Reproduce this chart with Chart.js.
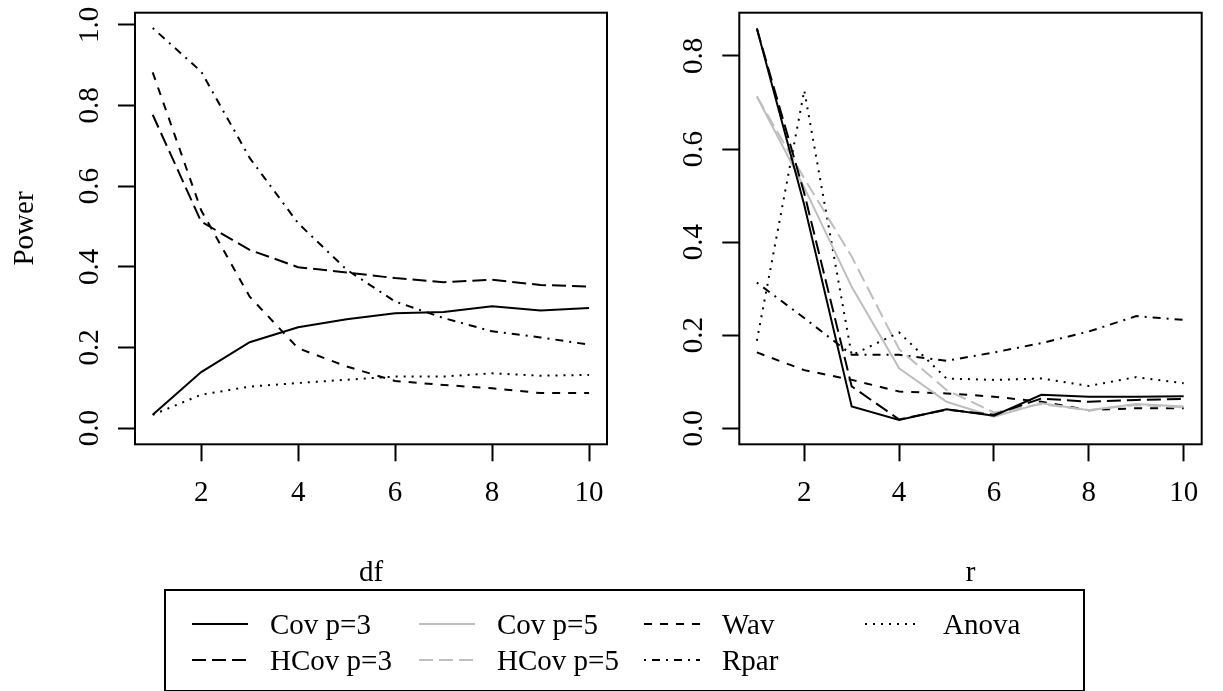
<!DOCTYPE html>
<html>
<head>
<meta charset="utf-8">
<script src="https://cdn.jsdelivr.net/npm/chart.js@4.4.1/dist/chart.umd.min.js"></script>
<style>
  body { margin: 0; background: #fff; width: 1223px; height: 691px; overflow: hidden; position: relative;
         font-family: "Liberation Serif", "Times New Roman", serif; }
  canvas { position: absolute; top: 0; }
  #legend { position: absolute; left: 164px; top: 589px; width: 917px; height: 99px; border: 2px solid #000; }
  .key { position: absolute; height: 30px; font-size: 29px; line-height: 30px; white-space: nowrap; }
  .key svg { position: absolute; left: 0; top: 0; }
  .key span { position: absolute; top: 0; }
</style>
</head>
<body>
<canvas id="dfChart" width="611" height="600" style="left:0;width:611px;height:600px"></canvas>
<canvas id="rChart" width="612" height="600" style="left:611px;width:612px;height:600px"></canvas>
<div id="legend"></div>
<script>
// x values for both panels
const dfValues = [1, 2, 3, 4, 5, 6, 7, 8, 9, 10];
const rValues = [1, 2, 3, 4, 5, 6, 7, 8, 9, 10];

// left panel: power against df
const covP3Df  = [0.033, 0.139, 0.213, 0.250, 0.270, 0.285, 0.288, 0.302, 0.292, 0.298];
const hcovP3Df = [0.777, 0.512, 0.442, 0.399, 0.386, 0.372, 0.362, 0.368, 0.355, 0.351];
const wavDf    = [0.882, 0.540, 0.326, 0.198, 0.153, 0.117, 0.107, 0.099, 0.087, 0.087];
const rparDf   = [0.992, 0.884, 0.670, 0.508, 0.393, 0.314, 0.273, 0.240, 0.225, 0.207];
const anovaDf  = [0.033, 0.083, 0.103, 0.112, 0.120, 0.128, 0.128, 0.136, 0.130, 0.132];

// right panel: power against r
const covP3R  = [0.859, 0.480, 0.047, 0.018, 0.041, 0.027, 0.072, 0.068, 0.068, 0.069];
const hcovP3R = [0.859, 0.505, 0.090, 0.019, 0.040, 0.029, 0.064, 0.057, 0.061, 0.063];
const covP5R  = [0.713, 0.517, 0.304, 0.129, 0.057, 0.025, 0.054, 0.039, 0.052, 0.047];
const hcovP5R = [0.713, 0.537, 0.369, 0.170, 0.082, 0.034, 0.052, 0.039, 0.050, 0.045];
const wavR    = [0.163, 0.125, 0.104, 0.079, 0.075, 0.068, 0.057, 0.039, 0.043, 0.043];
const rparR   = [0.313, 0.237, 0.158, 0.158, 0.145, 0.163, 0.183, 0.208, 0.241, 0.233];
const anovaR  = [0.188, 0.726, 0.157, 0.206, 0.107, 0.104, 0.107, 0.091, 0.110, 0.097];

const FONT = '"Liberation Serif", "Times New Roman", serif';
const GREY = '#bebebe';

// R style line types
const seriesStyle = {
    'Cov p=3':  { color: '#000', dash: [] },
    'HCov p=3': { color: '#000', dash: [14, 6] },
    'Cov p=5':  { color: GREY,   dash: [] },
    'HCov p=5': { color: GREY,   dash: [14, 6] },
    'Wav':      { color: '#000', dash: [8, 8] },
    'Rpar':     { color: '#000', dash: [2, 6, 8, 6] },
    'Anova':    { color: '#000', dash: [2, 6] }
};

function series(label, xs, ys) {
    const s = seriesStyle[label];
    return {
        label: label,
        data: xs.map((x, i) => ({ x: x, y: ys[i] })),
        borderColor: s.color,
        borderDash: s.dash,
        borderWidth: 2,
        pointRadius: 0,
        tension: 0,
        fill: false
    };
}

// box round the plot region and y labels turned like R's
const rFrame = {
    id: 'rFrame',
    afterDraw(chart) {
        const { ctx, chartArea: a } = chart;
        const y = chart.scales.y;
        ctx.save();
        ctx.strokeStyle = '#000';
        ctx.lineWidth = 2;
        ctx.strokeRect(a.left, a.top, a.right - a.left, a.bottom - a.top);
        ctx.fillStyle = '#000';
        ctx.font = '29px ' + FONT;
        ctx.textAlign = 'center';
        ctx.textBaseline = 'alphabetic';
        y.ticks.forEach(t => {
            ctx.save();
            ctx.translate(a.left - 37, y.getPixelForValue(t.value));
            ctx.rotate(-Math.PI / 2);
            ctx.fillText(t.value.toFixed(1), 0, 0);
            ctx.restore();
        });
        ctx.restore();
    }
};

function makeChart(id, datasets, opts) {
    return new Chart(document.getElementById(id), {
        type: 'line',
        data: { datasets: datasets },
        plugins: [rFrame],
        options: {
            responsive: false,
            animation: false,
            layout: { padding: { top: 12.7, right: opts.rightPad, left: 0, bottom: 0 } },
            plugins: { legend: { display: false }, tooltip: { enabled: false } },
            scales: {
                x: {
                    type: 'linear',
                    min: opts.xMin, max: opts.xMax,
                    afterFit: s => { s.height = 600 - 444.3; s.paddingLeft = 0; s.paddingRight = 0; },
                    border: { display: false },
                    grid: { drawOnChartArea: false, drawTicks: true, tickLength: 17, tickWidth: 2, tickColor: '#000' },
                    ticks: { stepSize: 2, includeBounds: false, color: '#000', padding: 15,
                             font: { family: FONT, size: 29 }, maxRotation: 0 },
                    title: { display: true, text: opts.xTitle, color: '#000',
                             font: { family: FONT, size: 29 }, padding: { top: 0, bottom: 9 } }
                },
                y: {
                    type: 'linear',
                    min: opts.yMin, max: opts.yMax,
                    afterFit: s => { s.width = opts.yWidth; s.paddingTop = 0; s.paddingBottom = 0; },
                    border: { display: false },
                    grid: { drawOnChartArea: false, drawTicks: true, tickLength: 17, tickWidth: 2, tickColor: '#000' },
                    ticks: { stepSize: 0.2, includeBounds: false, display: false },
                    title: { display: !!opts.yTitle, text: opts.yTitle || '', color: '#000',
                             font: { family: FONT, size: 29 }, padding: { top: 8, bottom: 0 } }
                }
            }
        }
    });
}

makeChart('dfChart', [
    series('Cov p=3', dfValues, covP3Df),
    series('HCov p=3', dfValues, hcovP3Df),
    series('Wav', dfValues, wavDf),
    series('Rpar', dfValues, rparDf),
    series('Anova', dfValues, anovaDf)
], { xMin: 0.635, xMax: 10.37, yMin: -0.04, yMax: 1.03, yWidth: 135, rightPad: 4, xTitle: 'df', yTitle: 'Power' });

makeChart('rChart', [
    series('Cov p=3', rValues, covP3R),
    series('HCov p=3', rValues, hcovP3R),
    series('Cov p=5', rValues, covP5R),
    series('HCov p=5', rValues, hcovP5R),
    series('Wav', rValues, wavR),
    series('Rpar', rValues, rparR),
    series('Anova', rValues, anovaR)
], { xMin: 0.63, xMax: 10.38, yMin: -0.0344, yMax: 0.893, yWidth: 128.3, rightPad: 612 - 1201.7 + 611, xTitle: 'r' });

// legend, filled column by column as in R
const legendLabels = ['Cov p=3', 'HCov p=3', 'Cov p=5', 'HCov p=5', 'Wav', 'Rpar', 'Anova'];
const colLeft = [26, 253, 478, 699];
const rowTop = [18, 54];
const legend = document.getElementById('legend');
legendLabels.forEach((lab, i) => {
    const s = seriesStyle[lab];
    const col = Math.floor(i / 2), row = i % 2;
    const el = document.createElement('div');
    el.className = 'key';
    el.style.left = colLeft[col] + 'px';
    el.style.top = rowTop[row] + 'px';
    el.innerHTML = '<svg width="56" height="30"><line x1="0" y1="15" x2="56" y2="15" stroke="' + s.color +
        '" stroke-width="2" stroke-dasharray="' + (s.dash.length ? s.dash.join(' ') : 'none') + '"/></svg>' +
        '<span style="left:78px">' + lab + '</span>';
    legend.appendChild(el);
});
</script>
</body>
</html>
